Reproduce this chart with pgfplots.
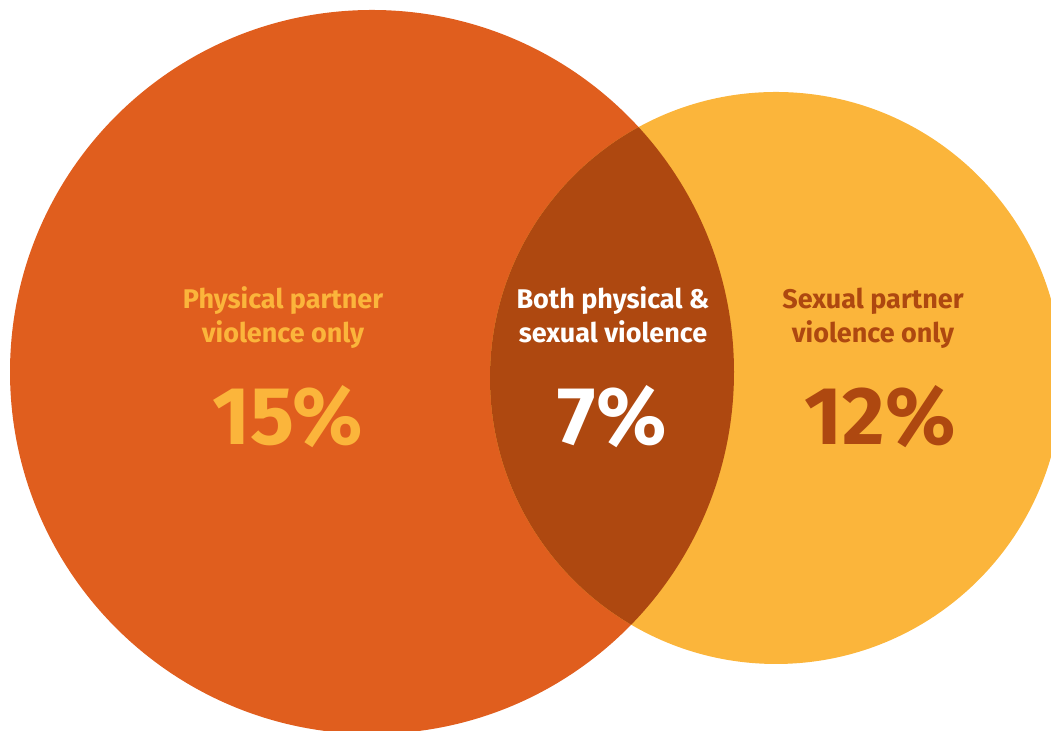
\documentclass[border=0pt]{standalone}
\usepackage{pgfplots}
\pgfplotsset{compat=1.18}
\usepackage{fontspec}
\setmainfont{Fira Sans}
\definecolor{orangeL}{RGB}{224,94,30}
\definecolor{yellowR}{RGB}{251,181,59}
\definecolor{darkI}{RGB}{174,72,16}
\begin{document}
\begin{tikzpicture}
\begin{axis}[
  x=0.5pt, y=0.5pt,
  xmin=0, xmax=1051, ymin=0, ymax=731,
  hide axis, clip=true,
]
% left circle: centre (372,359), r=362 ; right circle: centre (776,353), r=286
\fill[orangeL] (axis cs:372,359) circle[radius=362];
\fill[yellowR] (axis cs:776,353) circle[radius=286];
\begin{scope}
  \clip (axis cs:372,359) circle[radius=362];
  \fill[darkI] (axis cs:776,353) circle[radius=286];
\end{scope}
% labels
\node[anchor=base, text=yellowR, font=\fontsize{13.5}{16}\selectfont\bfseries] at (axis cs:283,422) {Physical partner};
\node[anchor=base, text=yellowR, font=\fontsize{13.5}{16}\selectfont\bfseries] at (axis cs:283,388) {violence only};
\node[anchor=base, text=yellowR, font=\fontsize{41}{48}\selectfont\bfseries] at (axis cs:288,286) {15\%};
\node[anchor=base, text=white, font=\fontsize{13.5}{16}\selectfont\bfseries] at (axis cs:613,422) {Both physical \&};
\node[anchor=base, text=white, font=\fontsize{13.5}{16}\selectfont\bfseries] at (axis cs:613,388) {sexual violence};
\node[anchor=base, text=white, font=\fontsize{41}{48}\selectfont\bfseries] at (axis cs:612,286) {7\%};
\node[anchor=base, text=darkI, font=\fontsize{13.5}{16}\selectfont\bfseries] at (axis cs:873,422) {Sexual partner};
\node[anchor=base, text=darkI, font=\fontsize{13.5}{16}\selectfont\bfseries] at (axis cs:873,388) {violence only};
\node[anchor=base, text=darkI, font=\fontsize{41}{48}\selectfont\bfseries] at (axis cs:880,286) {12\%};
\end{axis}
\pgfresetboundingbox
\useasboundingbox (current axis.south west) rectangle (current axis.north east);
\end{tikzpicture}
\end{document}
